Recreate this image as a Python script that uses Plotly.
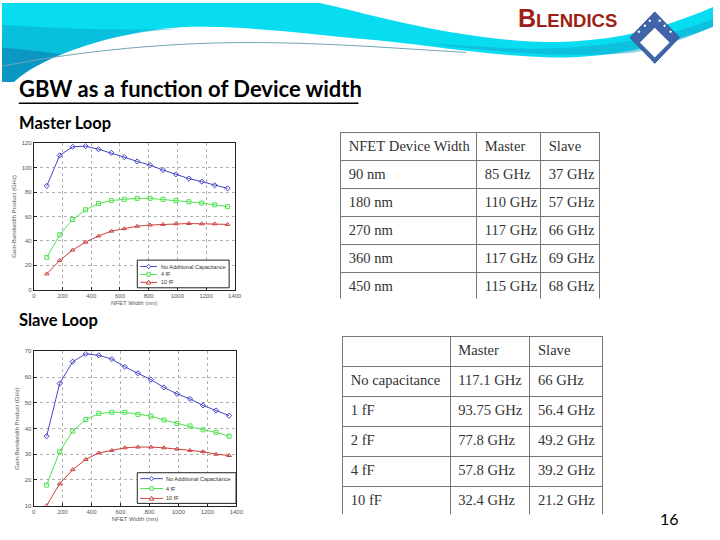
import plotly.graph_objects as go

W, H = 720, 540

# ---------------- data ----------------
width_nm = [90, 180, 270, 360, 450, 540, 630, 720, 810, 900, 990, 1080, 1170, 1260, 1350]

master_none = [85, 110, 117, 117.5, 115, 112, 108.5, 105, 102, 98, 94.5, 91, 88.5, 85.5, 83]
master_4fF = [26.5, 45, 57.5, 65.5, 70.5, 73, 74, 74.8, 74.8, 74, 73, 72, 71, 69.5, 68]
master_10fF = [13, 24, 32.5, 39, 44, 48, 50, 52, 53, 53.5, 54, 54.2, 54, 54, 53.5]

slave_none = [37, 57.5, 66, 69, 68.5, 67, 64, 61.5, 59, 56, 53.5, 51.5, 49, 47, 45]
slave_4fF = [18, 31, 39, 43.5, 45.8, 46.3, 46.3, 45.5, 44.8, 43.3, 42, 41, 39.5, 38.5, 37]
slave_10fF = [10, 18.5, 24, 28, 30.5, 31.5, 32.5, 32.8, 32.8, 32.5, 32, 31.5, 31, 30, 29.5]

series_names = ["No Additional Capacitance", "4 fF", "10 fF"]
series_colors = ["#4646c8", "#50e050", "#cc4040"]
series_symbols = ["diamond-open", "square-open", "triangle-up-open"]

master_ticks_y = [0, 20, 40, 60, 80, 100, 120]
slave_ticks_y = [10, 20, 30, 40, 50, 60, 70]
ticks_x = [0, 200, 400, 600, 800, 1000, 1200, 1400]

tbl1_header = ["NFET Device Width", "Master", "Slave"]
tbl1_width = ["90 nm", "180 nm", "270 nm", "360 nm", "450 nm"]
tbl1_master = ["85 GHz", "110 GHz", "117 GHz", "117 GHz", "115 GHz"]
tbl1_slave = ["37 GHz", "57 GHz", "66 GHz", "69 GHz", "68 GHz"]

tbl2_header = ["", "Master", "Slave"]
tbl2_cap = ["No capacitance", "1 fF", "2 fF", "4 fF", "10 fF"]
tbl2_master = ["117.1 GHz", "93.75 GHz", "77.8 GHz", "57.8 GHz", "32.4 GHz"]
tbl2_slave = ["66 GHz", "56.4 GHz", "49.2 GHz", "39.2 GHz", "21.2 GHz"]


# ---------------- helpers (pixel -> paper) ----------------
def px(x):
    return x / W


def py(y):
    return 1 - y / H


def nb(labels):
    # keep each label on one line inside its table cell
    return [s.replace(" ", "\u00a0") for s in labels]


def outline(cmds, n=16):
    """cmds: list of ('M',p) ('L',p) ('C',c1,c2,p); returns paper-space polyline path."""
    pts = []
    cur = None
    for c in cmds:
        if c[0] in ("M", "L"):
            cur = c[1]
            pts.append(cur)
        elif c[0] == "C":
            p0, p1, p2, p3 = cur, c[1], c[2], c[3]
            for i in range(1, n + 1):
                t = i / n
                a = (1 - t) ** 3
                b = 3 * (1 - t) ** 2 * t
                d = 3 * (1 - t) * t ** 2
                e = t ** 3
                pts.append((a * p0[0] + b * p1[0] + d * p2[0] + e * p3[0],
                            a * p0[1] + b * p1[1] + d * p2[1] + e * p3[1]))
            cur = p3
    return "M " + " L ".join(f"{px(x):.5f},{py(y):.5f}" for x, y in pts)


fig = go.Figure()

# ---------------- line plots ----------------
for i, ys in enumerate([master_none, master_4fF, master_10fF]):
    fig.add_trace(go.Scatter(
        x=width_nm, y=ys, mode="lines+markers", name=series_names[i],
        line=dict(color=series_colors[i], width=1),
        marker=dict(symbol=series_symbols[i], size=4, color=series_colors[i], line=dict(width=1)),
        xaxis="x", yaxis="y", showlegend=False))
for i, ys in enumerate([slave_none, slave_4fF, slave_10fF]):
    fig.add_trace(go.Scatter(
        x=width_nm, y=ys, mode="lines+markers", name=series_names[i],
        line=dict(color=series_colors[i], width=1),
        marker=dict(symbol=series_symbols[i], size=4, color=series_colors[i], line=dict(width=1)),
        xaxis="x2", yaxis="y2", showlegend=False))

axis_common = dict(
    showline=True, mirror=True, linecolor="#222", linewidth=1,
    showgrid=True, gridcolor="#b0b0b0", griddash="dot", gridwidth=1,
    zeroline=False, ticks="inside", ticklen=3, tickcolor="#222",
    tickfont=dict(family="Liberation Sans", size=6, color="#555"),
    fixedrange=True)
tfont_ax = dict(family="Liberation Sans", size=6, color="#555")

fig.update_layout(
    xaxis=dict(domain=[px(32.3), px(235.7)], range=[0, 1400], tickvals=ticks_x, anchor="y",
               title=dict(text="NFET Width (nm)", font=tfont_ax, standoff=2), **axis_common),
    yaxis=dict(domain=[py(290), py(141.7)], range=[0, 120], tickvals=master_ticks_y, anchor="x",
               title=dict(text="Gain-Bandwidth Product (GHz)", font=tfont_ax, standoff=4), **axis_common),
    xaxis2=dict(domain=[px(32), px(237.3)], range=[0, 1400], tickvals=ticks_x, anchor="y2",
                title=dict(text="NFET Width (nm)", font=tfont_ax, standoff=2), **axis_common),
    yaxis2=dict(domain=[py(508.3), py(352.3)], range=[10, 70], tickvals=slave_ticks_y, anchor="x2",
                title=dict(text="Gain-Bandwidth Product (GHz)", font=tfont_ax, standoff=4), **axis_common),
)

# ---------------- tables ----------------
tfont = dict(family="Liberation Serif", size=14.6, color="#333")
fig.add_trace(go.Table(
    domain=dict(x=[px(343), px(606)], y=[py(299), py(131)]),
    columnwidth=[136, 64, 59],
    header=dict(values=nb(tbl1_header), align="left", height=28, font=tfont,
                fill=dict(color="white"), line=dict(color="#777", width=1)),
    cells=dict(values=[nb(tbl1_width), nb(tbl1_master), nb(tbl1_slave)], align="left", height=28,
               font=tfont, fill=dict(color="white"), line=dict(color="#777", width=1)),
))
fig.add_trace(go.Table(
    domain=dict(x=[px(345), px(609)], y=[py(518), py(337)]),
    columnwidth=[108, 80, 73],
    header=dict(values=nb(tbl2_header), align="left", height=30, font=tfont,
                fill=dict(color="white"), line=dict(color="#777", width=1)),
    cells=dict(values=[nb(tbl2_cap), nb(tbl2_master), nb(tbl2_slave)], align="left", height=30,
               font=tfont, fill=dict(color="white"), line=dict(color="#777", width=1)),
))

shapes = []
annotations = []

# ---------------- header swoosh ----------------
swoosh = outline([("M", (0, 0)), ("L", (322, 0)),
                  ("C", (360, 8), (430, 30), (520, 38)),
                  ("C", (600, 44), (660, 30), (720, 4)),
                  ("L", (720, 24)),
                  ("C", (680, 40), (620, 56), (560, 55)),
                  ("C", (480, 53), (420, 40), (360, 36)),
                  ("C", (300, 30), (250, 24), (200, 24)),
                  ("C", (150, 24), (100, 36), (60, 52)),
                  ("C", (35, 62), (20, 72), (12, 80)),
                  ("L", (0, 80))]) + " Z"
shapes.append(dict(type="path", path=swoosh, xref="paper", yref="paper",
                   fillcolor="#08dcf0", line=dict(width=0), layer="below"))
dark1 = outline([("M", (0, 22)),
                 ("C", (60, 26), (120, 28), (180, 26)),
                 ("C", (140, 28), (100, 36), (60, 52)),
                 ("C", (35, 62), (20, 72), (12, 80)),
                 ("L", (0, 80))]) + " Z"
shapes.append(dict(type="path", path=dark1, xref="paper", yref="paper",
                   fillcolor="#0aa8d0", opacity=0.55, line=dict(width=0), layer="below"))
dark2 = outline([("M", (0, 45)),
                 ("C", (30, 48), (50, 50), (60, 52)),
                 ("C", (35, 62), (20, 72), (12, 80)),
                 ("L", (0, 80))]) + " Z"
shapes.append(dict(type="path", path=dark2, xref="paper", yref="paper",
                   fillcolor="#0b7fb0", opacity=0.6, line=dict(width=0), layer="below"))
band_dark = outline([("M", (430, 41)), ("C", (500, 50), (580, 56), (640, 50)),
                     ("C", (680, 42), (700, 32), (720, 24)),
                     ("L", (720, 16)), ("C", (680, 34), (600, 48), (520, 46))]) + " Z"
shapes.append(dict(type="path", path=band_dark, xref="paper", yref="paper",
                   fillcolor="#12a6cc", opacity=0.5, line=dict(width=0), layer="below"))
thin = outline([("M", (0, 64)), ("C", (60, 52), (150, 40), (250, 40)),
                ("C", (330, 40), (400, 46), (470, 50))])
shapes.append(dict(type="path", path=thin, xref="paper", yref="paper",
                   line=dict(color="#6fa6b4", width=1), layer="below"))

# ---------------- logo diamond ----------------
outer = outline([("M", (661, 9)), ("L", (686, 35)), ("L", (661, 61)), ("L", (636, 35))]) + " Z"
shapes.append(dict(type="path", path=outer, xref="paper", yref="paper",
                   fillcolor="#3f64a8", line=dict(color="#34569a", width=1)))
inner = outline([("M", (661, 25)), ("L", (676, 40)), ("L", (661, 55)), ("L", (646, 40))]) + " Z"
shapes.append(dict(type="path", path=inner, xref="paper", yref="paper",
                   fillcolor="white", line=dict(width=0)))
for (cx, cy) in [(656, 18), (651, 23), (645, 29), (666, 18), (671, 23), (677, 29)]:
    d = outline([("M", (cx, cy - 1.5)), ("L", (cx + 1.5, cy)), ("L", (cx, cy + 1.5)), ("L", (cx - 1.5, cy))]) + " Z"
    shapes.append(dict(type="path", path=d, xref="paper", yref="paper",
                       fillcolor="white", line=dict(width=0)))

annotations.append(dict(
    x=px(521), y=py(31), xref="paper", yref="paper", xanchor="left", yanchor="bottom",
    text="<b><span style='font-size:25px'>B</span>LENDICS</b>", showarrow=False,
    font=dict(family="Liberation Sans Narrow, Liberation Sans", size=18.5, color="#9e2014")))

# ---------------- titles ----------------
annotations.append(dict(
    x=px(15), y=py(102), xref="paper", yref="paper", xanchor="left", yanchor="bottom",
    text="<b>GBW as a function of Device width</b>", showarrow=False,
    font=dict(family="Lato", size=22, color="black")))
shapes.append(dict(type="line", xref="paper", yref="paper",
                   x0=px(17), x1=px(361), y0=py(101.5), y1=py(101.5),
                   line=dict(color="black", width=1.5)))
annotations.append(dict(
    x=px(15), y=py(133), xref="paper", yref="paper", xanchor="left", yanchor="bottom",
    text="<b>Master Loop</b>", showarrow=False,
    font=dict(family="Lato", size=16.5, color="black")))
annotations.append(dict(
    x=px(15), y=py(333), xref="paper", yref="paper", xanchor="left", yanchor="bottom",
    text="<b>Slave Loop</b>", showarrow=False,
    font=dict(family="Lato", size=16.5, color="black")))
annotations.append(dict(
    x=px(664), y=py(521), xref="paper", yref="paper", xanchor="left", yanchor="middle",
    text="16", showarrow=False,
    font=dict(family="Lato", size=16, color="black")))


# ---------------- legends (key boxes) ----------------
def marker_shape(sym, cx, cy, color, r=2.2):
    if sym.startswith("diamond"):
        pts = [("M", (cx, cy - r)), ("L", (cx + r, cy)), ("L", (cx, cy + r)), ("L", (cx - r, cy))]
    elif sym.startswith("square"):
        k = r * 0.8
        pts = [("M", (cx - k, cy - k)), ("L", (cx + k, cy - k)), ("L", (cx + k, cy + k)), ("L", (cx - k, cy + k))]
    else:
        pts = [("M", (cx, cy - r)), ("L", (cx + r, cy + r * 0.8)), ("L", (cx - r, cy + r * 0.8))]
    return dict(type="path", path=outline(pts) + " Z", xref="paper", yref="paper",
                fillcolor="white", line=dict(color=color, width=1))


def legend_box(x0, y0, x1, y1, line_x0, line_x1, rows_y):
    shapes.append(dict(type="rect", xref="paper", yref="paper",
                       x0=px(x0), x1=px(x1), y0=py(y1), y1=py(y0),
                       fillcolor="white", line=dict(color="#222", width=1)))
    for i, yy in enumerate(rows_y):
        shapes.append(dict(type="line", xref="paper", yref="paper",
                           x0=px(line_x0), x1=px(line_x1), y0=py(yy), y1=py(yy),
                           line=dict(color=series_colors[i], width=1)))
        shapes.append(marker_shape(series_symbols[i], (line_x0 + line_x1) / 2, yy, series_colors[i]))
        annotations.append(dict(x=px(line_x1 + 1.5), y=py(yy), xref="paper", yref="paper",
                                xanchor="left", yanchor="middle", text=series_names[i],
                                showarrow=False,
                                font=dict(family="Liberation Sans", size=5.5, color="#333")))


legend_box(137, 260, 230, 288, 140, 157, [266.5, 274.5, 282.5])
legend_box(137, 475, 237, 506, 140, 163, [481, 491, 501])

fig.update_layout(
    width=W, height=H, margin=dict(l=0, r=0, t=0, b=0),
    paper_bgcolor="white", plot_bgcolor="white",
    shapes=shapes, annotations=annotations, showlegend=False,
)

fig.write_html("out.html", config={"displayModeBar": False},
               post_script="document.body.style.margin='0';document.body.style.padding='0';")
